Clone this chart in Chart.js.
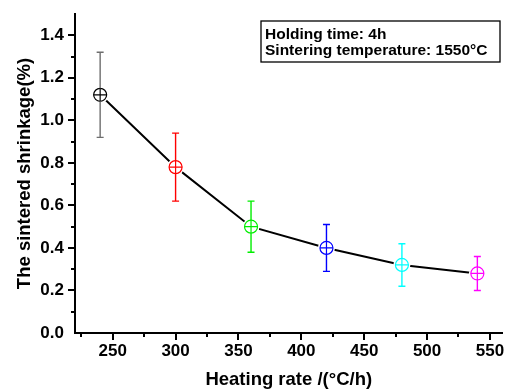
<!DOCTYPE html>
<html>
<head>
<meta charset="utf-8">
<script src="https://cdn.jsdelivr.net/npm/chart.js@4"></script>
<style>
  html, body { margin: 0; padding: 0; background: #fff; }
  #wrap { width: 511px; height: 389px; }
</style>
</head>
<body>
<div id="wrap"><canvas id="c" width="511" height="389"></canvas></div>
<script>
const heatingRate = [240, 300, 360, 420, 480, 540];
const shrinkage = [1.12, 0.78, 0.50, 0.40, 0.32, 0.28];
const errLow = [0.92, 0.62, 0.38, 0.29, 0.22, 0.20];
const errHigh = [1.32, 0.94, 0.62, 0.51, 0.42, 0.36];
const xTicks = [250, 300, 350, 400, 450, 500, 550];
const yTicks = [0.0, 0.2, 0.4, 0.6, 0.8, 1.0, 1.2, 1.4];
const noteLines = ['Holding time: 4h', 'Sintering temperature: 1550°C'];

const markerColors = ['#000000', '#ff0000', '#00ee00', '#0000ff', '#00ffff', '#ff00ff'];
const barColors = ['#6e6e6e', '#ff0000', '#00ee00', '#0000ff', '#00ffff', '#ff00ff'];
const FONT = 'Liberation Sans, Arial, Helvetica, sans-serif';
const R = 6.5;

const pts = heatingRate.map((x, i) => ({ x, y: shrinkage[i] }));

// error bars + manual tick marks (major/minor) + note box
const extras = {
    id: 'extras',
    afterDatasetsDraw(chart) {
        const { ctx, scales: { x, y } } = chart;
        ctx.save();
        ctx.lineWidth = 1.4;
        heatingRate.forEach((v, i) => {
            const px = x.getPixelForValue(v);
            const py = y.getPixelForValue(shrinkage[i]);
            const top = y.getPixelForValue(errHigh[i]);
            const bot = y.getPixelForValue(errLow[i]);
            ctx.strokeStyle = barColors[i];
            ctx.beginPath();
            ctx.moveTo(px, top); ctx.lineTo(px, py - R);
            ctx.moveTo(px, py + R); ctx.lineTo(px, bot);
            ctx.moveTo(px - 3.5, top); ctx.lineTo(px + 3.5, top);
            ctx.moveTo(px - 3.5, bot); ctx.lineTo(px + 3.5, bot);
            ctx.stroke();
        });
        ctx.restore();
    },
    afterDraw(chart) {
        const { ctx, scales: { x, y }, chartArea } = chart;
        ctx.save();
        ctx.strokeStyle = '#000';
        ctx.lineWidth = 2;
        ctx.beginPath();
        for (let v = 225; v <= 550; v += 25) {
            const px = Math.round(x.getPixelForValue(v));
            const len = v % 50 === 0 ? 7 : 4;
            ctx.moveTo(px, chartArea.bottom);
            ctx.lineTo(px, chartArea.bottom + len);
        }
        for (let k = 1; k <= 14; k++) {
            const py = Math.round(y.getPixelForValue(k / 10));
            const len = k % 2 === 0 ? 7 : 4;
            ctx.moveTo(chartArea.left, py);
            ctx.lineTo(chartArea.left - len, py);
        }
        ctx.stroke();

        // note box
        ctx.lineWidth = 1.3;
        ctx.strokeRect(261, 21, 239, 41);
        ctx.fillStyle = '#000';
        ctx.font = 'bold 15.5px ' + FONT;
        ctx.textBaseline = 'alphabetic';
        ctx.fillText(noteLines[0], 265, 38.5);
        ctx.fillText(noteLines[1], 265, 54.5);
        ctx.restore();
    }
};

new Chart(document.getElementById('c'), {
    type: 'scatter',
    data: {
        datasets: [
            {
                data: pts, showLine: true, borderColor: '#000', borderWidth: 2,
                pointRadius: 0, order: 4
            },
            {
                data: pts, pointRadius: R + 2, pointStyle: 'circle',
                pointBackgroundColor: '#fff', pointBorderColor: '#fff', pointBorderWidth: 0, order: 3
            },
            {
                data: pts, pointRadius: R, pointStyle: 'circle',
                pointBackgroundColor: '#fff', pointBorderColor: markerColors, pointBorderWidth: 1.2, order: 2
            },
            {
                data: pts, pointRadius: R, pointStyle: 'cross',
                pointBorderColor: markerColors, pointBorderWidth: 1.2, order: 1
            }
        ]
    },
    options: {
        responsive: false,
        animation: false,
        events: [],
        layout: { padding: { top: 14, right: 6, left: 0, bottom: 0 } },
        plugins: { legend: { display: false }, tooltip: { enabled: false } },
        scales: {
            x: {
                type: 'linear', min: 220, max: 560,
                afterBuildTicks: s => { s.ticks = xTicks.map(v => ({ value: v })); },
                afterFit: s => { s.height = 56; s.paddingLeft = 0; s.paddingRight = 0; },
                grid: { display: false, drawTicks: false },
                border: { display: true, color: '#000', width: 2 },
                ticks: {
                    color: '#000', padding: 8, maxRotation: 0, autoSkip: false,
                    font: { family: FONT, size: 17, weight: 'bold' }
                },
                title: {
                    display: true, text: 'Heating rate /(°C/h)', color: '#000',
                    padding: { top: 0, bottom: 0 },
                    font: { family: FONT, size: 18.5, weight: 'bold', lineHeight: 1 }
                }
            },
            y: {
                type: 'linear', min: 0, max: 1.5,
                afterBuildTicks: s => { s.ticks = yTicks.map(v => ({ value: v })); },
                afterFit: s => { s.width = 75; s.paddingTop = 0; s.paddingBottom = 0; },
                grid: { display: false, drawTicks: false },
                border: { display: true, color: '#000', width: 2 },
                ticks: {
                    color: '#000', padding: 11, autoSkip: false,
                    callback: v => Number(v).toFixed(1),
                    font: { family: FONT, size: 17, weight: 'bold' }
                },
                title: {
                    display: true, text: 'The sintered shrinkage(%)', color: '#000',
                    padding: { top: 16, bottom: 0 },
                    font: { family: FONT, size: 18.5, weight: 'bold', lineHeight: 1 }
                }
            }
        }
    },
    plugins: [extras]
});
</script>
</body>
</html>
